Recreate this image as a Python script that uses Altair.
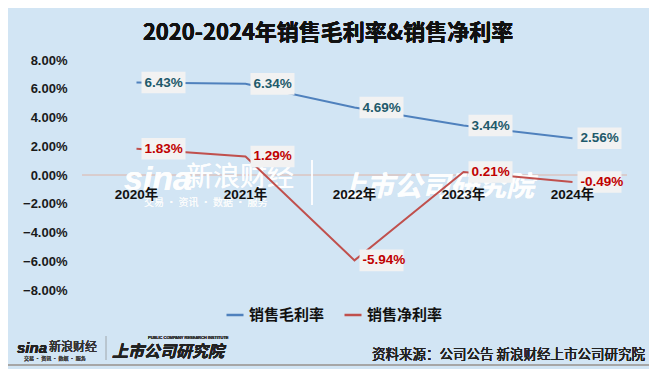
import altair as alt
import pandas as pd

years = ["2020年", "2021年", "2022年", "2023年", "2024年"]
gross_margin = [6.43, 6.34, 4.69, 3.44, 2.56]
net_margin = [1.83, 1.29, -5.94, 0.21, -0.49]
series_names = ["销售毛利率", "销售净利率"]
line_colors = ["#4F81BD", "#C0504D"]
label_colors = ["#1F5A6B", "#C00000"]
y_ticks = [-8, -6, -4, -2, 0, 2, 4, 6, 8]

rows = []
for i, y in enumerate(years):
    rows.append({"year": y, "metric": series_names[0], "value": gross_margin[i],
                 "label": f"{gross_margin[i]:.2f}%", "tcolor": label_colors[0]})
    rows.append({"year": y, "metric": series_names[1], "value": net_margin[i],
                 "label": f"{net_margin[i]:.2f}%", "tcolor": label_colors[1]})
df = pd.DataFrame(rows)
df_years = pd.DataFrame({"year": years})

BG = "#D2E5F4"
CN = "Noto Sans CJK SC"
NUM = "Liberation Sans, Noto Sans CJK SC"

x_enc = alt.X("year:O", sort=years,
              scale=alt.Scale(type="point", domain=years, padding=0.5),
              axis=None)
y_scale = alt.Scale(domain=[-8, 8], nice=False, zero=False)
y_axis = alt.Axis(values=y_ticks, labelExpr="format(datum.value, '.2f') + '%'",
                  labelFont=NUM, labelFontSize=13, labelFontWeight="bold",
                  labelColor="#1a1a1a", labelPadding=15, domain=False,
                  labelOverlap=False, labelBound=False, tickCount=9,
                  ticks=False, grid=False, title=None)
y_enc = alt.Y("value:Q", scale=y_scale, axis=y_axis)
y_zero = alt.YDatum(0, type="quantitative", scale=y_scale, axis=y_axis)

base = alt.Chart(df)

zero_rule = alt.Chart(df_years).mark_rule(color="#D9CCCC", strokeWidth=1).encode(y=y_zero)

# watermark
wm1 = alt.Chart(df_years).mark_text(
    text="sina", font="Liberation Sans", fontSize=34, fontWeight="bold", fontStyle="italic",
    color="white", opacity=0.5, align="left", baseline="middle").encode(
    x=alt.value(42), y=alt.value(120))
wm2 = alt.Chart(df_years).mark_text(
    text="新浪财经", font=CN, fontSize=27, color="white", opacity=0.5,
    align="left", baseline="middle").encode(x=alt.value(104), y=alt.value(118))
wm3 = alt.Chart(df_years).mark_text(
    text="交易 · 资讯 · 数据 · 服务", font=CN, fontSize=10, color="white", opacity=0.45,
    align="left", baseline="middle").encode(x=alt.value(62), y=alt.value(143))
wm4 = alt.Chart(df_years).mark_rule(color="white", opacity=0.5, strokeWidth=1.5).encode(
    x=alt.value(230), y=alt.value(100), y2=alt.value(145))
wm5 = alt.Chart(df_years).mark_text(
    text="上市公司研究院", font=CN, fontSize=28, fontWeight="bold", fontStyle="italic",
    color="white", opacity=0.5, align="left", baseline="middle").encode(
    x=alt.value(256), y=alt.value(128))

lines = base.mark_line(strokeWidth=2).encode(
    x=x_enc, y=y_enc,
    color=alt.Color("metric:N", scale=alt.Scale(domain=series_names, range=line_colors),
                    legend=alt.Legend(orient="none", legendX=143, legendY=245,
                                      direction="horizontal", title=None,
                                      symbolType="stroke", symbolStrokeWidth=2.5,
                                      symbolSize=289, labelFontSize=15,
                                      labelFontWeight="bold", labelFont=CN,
                                      labelColor="#111111", columnPadding=14,
                                      labelOffset=4, padding=0)),
)

boxes = base.mark_point(
    shape="M-1,-0.49L1,-0.49L1,0.49L-1,0.49Z", size=1936, filled=True,
    fill="#F2F2F2", opacity=1, strokeWidth=0, xOffset=27).encode(x=x_enc, y=y_enc)

labels = base.mark_text(
    align="left", baseline="middle", dx=8, font=NUM, fontSize=13.5, fontWeight="bold").encode(
    x=x_enc, y=y_enc, text="label:N", color=alt.Color("tcolor:N", scale=None))

year_labels = alt.Chart(df_years).mark_text(
    baseline="middle", dy=20, font=NUM, fontSize=13.5, fontWeight="bold", color="#111111").encode(
    x=x_enc, y=y_zero, text="year:N")

title = alt.Chart(df_years).mark_text(
    text="2020-2024年销售毛利率&销售净利率", font=CN, fontSize=22, fontWeight="bold",
    color="#111111", align="center", baseline="middle").encode(
    x=alt.value(246), y=alt.value(-27))

source = alt.Chart(df_years).mark_text(
    text="资料来源：公司公告 新浪财经上市公司研究院", font=CN, fontSize=13.5,
    color="#222222", align="right", baseline="middle").encode(
    x=alt.value(563), y=alt.value(295))

bottom_rule = alt.Chart(df_years).mark_rule(color="#A6A6A6", strokeWidth=1.5).encode(
    x=alt.value(-74), x2=alt.value(567), y=alt.value(305))

logo1 = alt.Chart(df_years).mark_text(
    text="sina", font="Liberation Sans", fontSize=15, fontWeight="bold", fontStyle="italic",
    color="#222222", align="left", baseline="middle").encode(x=alt.value(-65), y=alt.value(288))
logo2 = alt.Chart(df_years).mark_text(
    text="新浪财经", font=CN, fontSize=12, color="#333333",
    align="left", baseline="middle").encode(x=alt.value(-33), y=alt.value(287))
logo3 = alt.Chart(df_years).mark_text(
    text="交易 · 资讯 · 数据 · 服务", font=CN, fontSize=5, color="#444444",
    align="left", baseline="middle").encode(x=alt.value(-58), y=alt.value(298))
logo4 = alt.Chart(df_years).mark_rule(color="#B8C4CE", strokeWidth=1).encode(
    x=alt.value(24), y=alt.value(276), y2=alt.value(300))
logo5 = alt.Chart(df_years).mark_text(
    text="上市公司研究院", font=CN, fontSize=16, fontWeight="bold", fontStyle="italic",
    color="#222222", align="left", baseline="middle").encode(x=alt.value(30), y=alt.value(292))
logo6 = alt.Chart(df_years).mark_text(
    text="PUBLIC COMPANY RESEARCH INSTITUTE", font="Liberation Sans", fontSize=4,
    color="#333333", align="left", baseline="middle").encode(x=alt.value(66), y=alt.value(278))

chart = alt.layer(
    zero_rule, wm1, wm2, wm3, wm4, wm5, lines, boxes, labels, year_labels,
    title, source, bottom_rule, logo1, logo2, logo3, logo4, logo5, logo6
).properties(
    width=545, height=230,
    autosize=alt.AutoSizeParams(type="none"),
    padding={"left": 74, "top": 52, "right": 22, "bottom": 79},
    background=BG,
).configure_view(stroke=None)

chart.save("out.html", embed_options={"renderer": "svg", "actions": False})
